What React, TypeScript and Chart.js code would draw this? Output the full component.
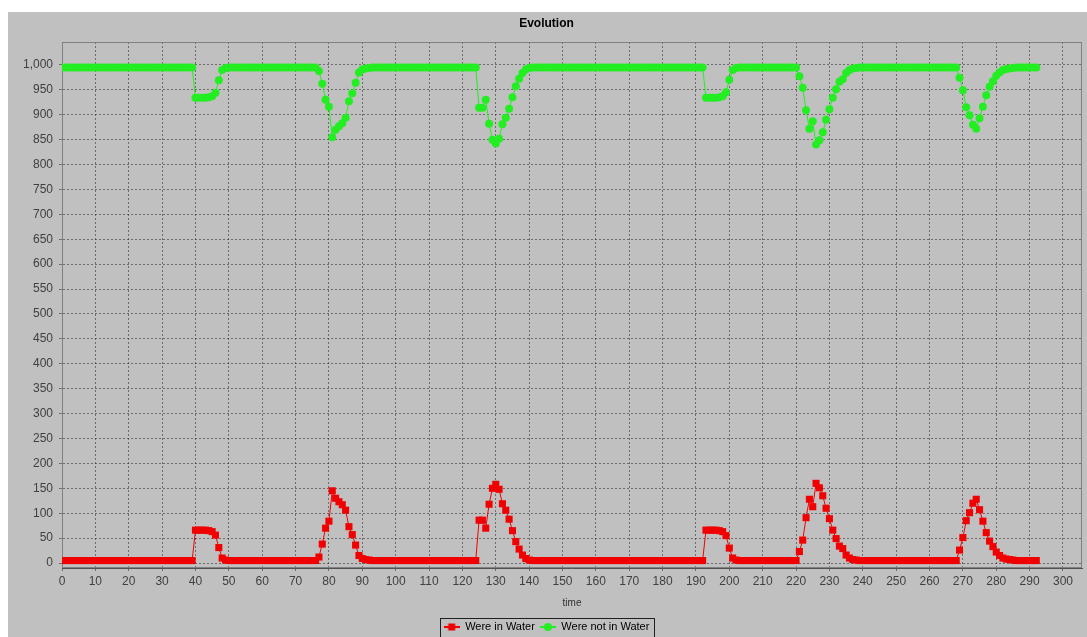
import { useEffect, useRef } from "react";
import { Chart, registerables } from "chart.js";

Chart.register(...registerables);

const TITLE = "Evolution";
const X_TITLE = "time";
const SERIES_NAMES = ["Were in Water", "Were not in Water"];
const SERIES_COLORS = ["#f00000", "#22ee22"];

const X_TICKS = [0, 10, 20, 30, 40, 50, 60, 70, 80, 90, 100, 110, 120, 130, 140, 150, 160, 170, 180, 190, 200, 210, 220, 230, 240, 250, 260, 270, 280, 290, 300];
const Y_TICKS = [0, 50, 100, 150, 200, 250, 300, 350, 400, 450, 500, 550, 600, 650, 700, 750, 800, 850, 900, 950, 1000];

const TIME = [
  0, 1, 2, 3, 4, 5, 6, 7, 8, 9,
  10, 11, 12, 13, 14, 15, 16, 17, 18, 19,
  20, 21, 22, 23, 24, 25, 26, 27, 28, 29,
  30, 31, 32, 33, 34, 35, 36, 37, 38, 39,
  40, 41, 42, 43, 44, 45, 46, 47, 48, 49,
  50, 51, 52, 53, 54, 55, 56, 57, 58, 59,
  60, 61, 62, 63, 64, 65, 66, 67, 68, 69,
  70, 71, 72, 73, 74, 75, 76, 77, 78, 79,
  80, 81, 82, 83, 84, 85, 86, 87, 88, 89,
  90, 91, 92, 93, 94, 95, 96, 97, 98, 99,
  100, 101, 102, 103, 104, 105, 106, 107, 108, 109,
  110, 111, 112, 113, 114, 115, 116, 117, 118, 119,
  120, 121, 122, 123, 124, 125, 126, 127, 128, 129,
  130, 131, 132, 133, 134, 135, 136, 137, 138, 139,
  140, 141, 142, 143, 144, 145, 146, 147, 148, 149,
  150, 151, 152, 153, 154, 155, 156, 157, 158, 159,
  160, 161, 162, 163, 164, 165, 166, 167, 168, 169,
  170, 171, 172, 173, 174, 175, 176, 177, 178, 179,
  180, 181, 182, 183, 184, 185, 186, 187, 188, 189,
  190, 191, 192, 193, 194, 195, 196, 197, 198, 199,
  200, 201, 202, 203, 204, 205, 206, 207, 208, 209,
  210, 211, 212, 213, 214, 215, 216, 217, 218, 219,
  220, 221, 222, 223, 224, 225, 226, 227, 228, 229,
  230, 231, 232, 233, 234, 235, 236, 237, 238, 239,
  240, 241, 242, 243, 244, 245, 246, 247, 248, 249,
  250, 251, 252, 253, 254, 255, 256, 257, 258, 259,
  260, 261, 262, 263, 264, 265, 266, 267, 268, 269,
  270, 271, 272, 273, 274, 275, 276, 277, 278, 279,
  280, 281, 282, 283, 284, 285, 286, 287, 288, 289,
  290, 291, 292,
];

const IN_WATER = [
  5, 5, 5, 5, 5, 5, 5, 5, 5, 5,
  5, 5, 5, 5, 5, 5, 5, 5, 5, 5,
  5, 5, 5, 5, 5, 5, 5, 5, 5, 5,
  5, 5, 5, 5, 5, 5, 5, 5, 5, 5,
  66, 66, 66, 66, 65, 63, 56, 31, 10, 6,
  5, 5, 5, 5, 5, 5, 5, 5, 5, 5,
  5, 5, 5, 5, 5, 5, 5, 5, 5, 5,
  5, 5, 5, 5, 5, 5, 5, 12, 38, 70,
  84, 145, 130, 123, 117, 106, 73, 57, 36, 15,
  9, 7, 6, 5, 5, 5, 5, 5, 5, 5,
  5, 5, 5, 5, 5, 5, 5, 5, 5, 5,
  5, 5, 5, 5, 5, 5, 5, 5, 5, 5,
  5, 5, 5, 5, 5, 86, 86, 70, 118, 150,
  158, 148, 119, 106, 88, 65, 43, 28, 16, 9,
  6, 5, 5, 5, 5, 5, 5, 5, 5, 5,
  5, 5, 5, 5, 5, 5, 5, 5, 5, 5,
  5, 5, 5, 5, 5, 5, 5, 5, 5, 5,
  5, 5, 5, 5, 5, 5, 5, 5, 5, 5,
  5, 5, 5, 5, 5, 5, 5, 5, 5, 5,
  5, 5, 5, 66, 66, 66, 66, 65, 63, 55,
  30, 10, 6, 5, 5, 5, 5, 5, 5, 5,
  5, 5, 5, 5, 5, 5, 5, 5, 5, 5,
  5, 23, 46, 91, 128, 113, 160, 151, 135, 110,
  89, 66, 49, 34, 29, 16, 10, 7, 6, 5,
  5, 5, 5, 5, 5, 5, 5, 5, 5, 5,
  5, 5, 5, 5, 5, 5, 5, 5, 5, 5,
  5, 5, 5, 5, 5, 5, 5, 5, 5, 26,
  51, 85, 101, 120, 128, 107, 84, 61, 44, 33,
  22, 15, 10, 8, 7, 6, 5, 5, 5, 5,
  5, 5, 5,
];

const NOT_IN_WATER = [
  995, 995, 995, 995, 995, 995, 995, 995, 995, 995,
  995, 995, 995, 995, 995, 995, 995, 995, 995, 995,
  995, 995, 995, 995, 995, 995, 995, 995, 995, 995,
  995, 995, 995, 995, 995, 995, 995, 995, 995, 995,
  934, 934, 934, 934, 935, 937, 944, 969, 990, 994,
  995, 995, 995, 995, 995, 995, 995, 995, 995, 995,
  995, 995, 995, 995, 995, 995, 995, 995, 995, 995,
  995, 995, 995, 995, 995, 995, 995, 988, 962, 930,
  916, 855, 870, 877, 883, 894, 927, 943, 964, 985,
  991, 993, 994, 995, 995, 995, 995, 995, 995, 995,
  995, 995, 995, 995, 995, 995, 995, 995, 995, 995,
  995, 995, 995, 995, 995, 995, 995, 995, 995, 995,
  995, 995, 995, 995, 995, 914, 914, 930, 882, 850,
  842, 852, 881, 894, 912, 935, 957, 972, 984, 991,
  994, 995, 995, 995, 995, 995, 995, 995, 995, 995,
  995, 995, 995, 995, 995, 995, 995, 995, 995, 995,
  995, 995, 995, 995, 995, 995, 995, 995, 995, 995,
  995, 995, 995, 995, 995, 995, 995, 995, 995, 995,
  995, 995, 995, 995, 995, 995, 995, 995, 995, 995,
  995, 995, 995, 934, 934, 934, 934, 935, 937, 945,
  970, 990, 994, 995, 995, 995, 995, 995, 995, 995,
  995, 995, 995, 995, 995, 995, 995, 995, 995, 995,
  995, 977, 954, 909, 872, 887, 840, 849, 865, 890,
  911, 934, 951, 966, 971, 984, 990, 993, 994, 995,
  995, 995, 995, 995, 995, 995, 995, 995, 995, 995,
  995, 995, 995, 995, 995, 995, 995, 995, 995, 995,
  995, 995, 995, 995, 995, 995, 995, 995, 995, 974,
  949, 915, 899, 880, 872, 893, 916, 939, 956, 967,
  978, 985, 990, 992, 993, 994, 995, 995, 995, 995,
  995, 995, 995,
];

const FONT = "'Liberation Sans', Arial, sans-serif";
const BG = "#c0c0c0";

function makeMarker(color: string, shape: "rect" | "circle") {
  const c = document.createElement("canvas");
  c.width = 16;
  c.height = 10;
  const g = c.getContext("2d")!;
  g.strokeStyle = color;
  g.fillStyle = color;
  g.lineWidth = 2;
  g.beginPath();
  g.moveTo(0, 5);
  g.lineTo(16, 5);
  g.stroke();
  if (shape === "rect") {
    g.fillRect(4.5, 1.5, 7, 7);
  } else {
    g.beginPath();
    g.arc(8, 5, 4, 0, Math.PI * 2);
    g.fill();
  }
  return c;
}

const framePlugin = {
  id: "frame",
  beforeDatasetsDraw(chart: any) {
    const { ctx, chartArea: a } = chart;
    ctx.save();
    ctx.strokeStyle = "#808080";
    ctx.lineWidth = 1;
    ctx.strokeRect(a.left + 0.5, a.top + 0.5, a.right - a.left - 1, a.bottom - a.top - 1);
    ctx.restore();
  },
};

const legendBoxPlugin = {
  id: "legendBox",
  afterDraw(chart: any) {
    const lg = chart.legend;
    const hb = lg && lg.legendHitBoxes;
    if (!hb || !hb.length) return;
    const ctx = chart.ctx;
    const l = Math.min(...hb.map((h: any) => h.left)) - 4;
    const r = Math.max(...hb.map((h: any) => h.left + h.width)) + 4;
    const t = hb[0].top - 3.5;
    const b = chart.height - 0.5;
    ctx.save();
    ctx.strokeStyle = "#202020";
    ctx.lineWidth = 1;
    ctx.strokeRect(Math.round(l) + 0.5, Math.round(t) + 0.5, Math.round(r - l), Math.round(b - t));
    ctx.restore();
  },
};

export default function App() {
  const ref = useRef<HTMLCanvasElement | null>(null);

  useEffect(() => {
    if (!ref.current) return;
    const markers = [makeMarker(SERIES_COLORS[0], "rect"), makeMarker(SERIES_COLORS[1], "circle")];
    const gridCommon = {
      color: "rgba(40,40,40,0.55)",
      lineWidth: 1,
      drawTicks: true,
      tickLength: 3,
      tickColor: "#707070",
    };
    const chart = new Chart(ref.current, {
      type: "line",
      data: {
        datasets: [
          {
            label: SERIES_NAMES[0],
            data: TIME.map((t, i) => ({ x: t, y: IN_WATER[i] })),
            borderColor: SERIES_COLORS[0],
            backgroundColor: SERIES_COLORS[0],
            pointBackgroundColor: SERIES_COLORS[0],
            borderWidth: 1,
            pointStyle: "rect",
            pointRadius: 5,
            pointBorderWidth: 0,
            tension: 0,
          },
          {
            label: SERIES_NAMES[1],
            data: TIME.map((t, i) => ({ x: t, y: NOT_IN_WATER[i] })),
            borderColor: SERIES_COLORS[1],
            backgroundColor: SERIES_COLORS[1],
            pointBackgroundColor: SERIES_COLORS[1],
            borderWidth: 1,
            pointStyle: "circle",
            pointRadius: 4,
            pointBorderWidth: 0,
            tension: 0,
          },
        ],
      },
      options: {
        animation: false,
        responsive: false,
        layout: { padding: { top: 0, left: 0, right: 2, bottom: -5.5 } },
        plugins: {
          title: {
            display: true,
            text: TITLE,
            color: "#000000",
            font: { family: FONT, size: 12, weight: "bold", lineHeight: 1.2 },
            padding: { top: 4, bottom: 11.6 },
          },
          legend: {
            position: "bottom",
            labels: {
              usePointStyle: true,
              pointStyleWidth: 16,
              padding: 5,
              color: "#000000",
              font: { family: FONT, size: 11 },
              generateLabels: (c: any) => {
                const items = (Chart as any).defaults.plugins.legend.labels.generateLabels(c);
                items.forEach((it: any, i: number) => {
                  it.pointStyle = markers[i];
                });
                return items;
              },
            },
          },
          tooltip: { enabled: false },
        },
        scales: {
          x: {
            type: "linear",
            min: 0,
            max: 305.7,
            afterBuildTicks: (s: any) => {
              s.ticks = X_TICKS.map((v) => ({ value: v }));
            },
            afterFit: (s: any) => {
              s.height = 48.5;
            },
            ticks: {
              color: "#404040",
              font: { family: FONT, size: 12 },
              padding: 3,
              maxRotation: 0,
              autoSkip: false,
              callback: (v: any) => String(v),
            },
            grid: gridCommon,
            border: { display: true, color: "#505050", width: 1, dash: [2, 2] },
            title: {
              display: true,
              text: X_TITLE,
              color: "#303030",
              font: { family: FONT, size: 10, lineHeight: 1.2 },
              padding: { top: 0, bottom: 7.5 },
            },
          },
          y: {
            type: "linear",
            min: -10,
            max: 1046,
            afterBuildTicks: (s: any) => {
              s.ticks = Y_TICKS.map((v) => ({ value: v }));
            },
            afterFit: (s: any) => {
              s.width = 54;
            },
            ticks: {
              color: "#404040",
              font: { family: FONT, size: 12 },
              padding: 6,
              autoSkip: false,
              callback: (v: any) => Number(v).toLocaleString("en-US"),
            },
            grid: gridCommon,
            border: { display: true, color: "#505050", width: 1, dash: [2, 2] },
          },
        },
      } as any,
      plugins: [framePlugin, legendBoxPlugin],
    });
    return () => chart.destroy();
  }, []);

  return (
    <div
      style={{
        position: "absolute",
        left: 8,
        top: 12,
        width: 1079,
        height: 625,
        background: BG,
        overflow: "hidden",
      }}
    >
      <canvas ref={ref} width={1079} height={625} style={{ display: "block" }} />
    </div>
  );
}
